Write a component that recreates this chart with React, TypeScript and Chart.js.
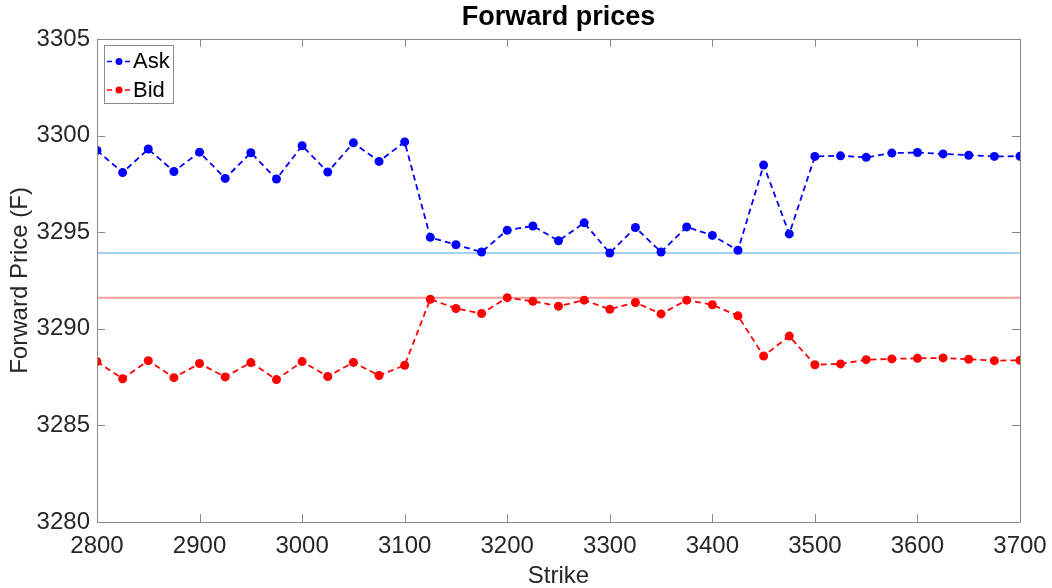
import React, { useEffect, useRef } from "react";
import { Chart, registerables } from "chart.js";

Chart.register(...registerables);

const strikes = [
  2800, 2825, 2850, 2875, 2900, 2925, 2950, 2975, 3000, 3025, 3050, 3075, 3100,
  3125, 3150, 3175, 3200, 3225, 3250, 3275, 3300, 3325, 3350, 3375, 3400, 3425,
  3450, 3475, 3500, 3525, 3550, 3575, 3600, 3625, 3650, 3675, 3700,
];

const askPrices = [
  3299.23, 3298.08, 3299.3, 3298.14, 3299.14, 3297.78, 3299.11, 3297.75, 3299.47,
  3298.11, 3299.62, 3298.66, 3299.67, 3294.73, 3294.35, 3293.97, 3295.1, 3295.32,
  3294.55, 3295.48, 3293.92, 3295.24, 3293.97, 3295.27, 3294.83, 3294.06, 3298.47,
  3294.91, 3298.92, 3298.95, 3298.87, 3299.09, 3299.12, 3299.05, 3298.98, 3298.92,
  3298.93,
];

const bidPrices = [
  3288.3, 3287.41, 3288.35, 3287.47, 3288.2, 3287.51, 3288.25, 3287.37, 3288.3,
  3287.53, 3288.26, 3287.58, 3288.11, 3291.53, 3291.05, 3290.79, 3291.61, 3291.42,
  3291.17, 3291.48, 3291.01, 3291.36, 3290.77, 3291.48, 3291.24, 3290.67, 3288.59,
  3289.62, 3288.14, 3288.18, 3288.4, 3288.44, 3288.47, 3288.49, 3288.42, 3288.35,
  3288.37,
];

const askLevel = 3293.92;
const bidLevel = 3291.61;

const xRange = [2800, 3700];
const yRange = [3280, 3305];
const xStep = 100;
const yStep = 5;

const titleText = "Forward prices";
const xTitle = "Strike";
const yTitle = "Forward Price (F)";

const FONT = "'Liberation Sans', Arial, Helvetica, sans-serif";
const TEXT = "#262626";

const boxPlugin = {
  id: "boxTicks",
  afterDatasetsDraw(chart: any) {
    const { ctx, chartArea: a, scales } = chart;
    ctx.save();
    ctx.strokeStyle = "#8a8a8a";
    ctx.lineWidth = 1;
    ctx.beginPath();
    ctx.rect(Math.round(a.left) + 0.5, Math.round(a.top) + 0.5, Math.round(a.right - a.left), Math.round(a.bottom - a.top));
    ctx.stroke();
    const tl = 8;
    ctx.beginPath();
    for (const t of scales.x.ticks) {
      const px = Math.round(scales.x.getPixelForValue(t.value)) + 0.5;
      ctx.moveTo(px, a.bottom);
      ctx.lineTo(px, a.bottom - tl);
      ctx.moveTo(px, a.top);
      ctx.lineTo(px, a.top + tl);
    }
    for (const t of scales.y.ticks) {
      const py = Math.round(scales.y.getPixelForValue(t.value)) + 0.5;
      ctx.moveTo(a.left, py);
      ctx.lineTo(a.left + tl, py);
      ctx.moveTo(a.right, py);
      ctx.lineTo(a.right - tl, py);
    }
    ctx.stroke();
    ctx.restore();
  },
  afterDraw(chart: any) {
    const { ctx, chartArea: a } = chart;
    const items = chart.data.datasets.filter((d: any) => d.label);
    const bx = a.left + 7;
    const by = a.top + 6;
    const bw = 69;
    const bh = 58;
    ctx.save();
    ctx.fillStyle = "#ffffff";
    ctx.fillRect(bx, by, bw, bh);
    ctx.strokeStyle = "#8a8a8a";
    ctx.lineWidth = 1;
    ctx.strokeRect(Math.round(bx) + 0.5, Math.round(by) + 0.5, bw, bh);
    items.forEach((d: any, i: number) => {
      const cy = by + 16.5 + i * 28.5;
      ctx.strokeStyle = d.borderColor;
      ctx.lineWidth = 1.5;
      ctx.setLineDash([5, 4]);
      ctx.beginPath();
      ctx.moveTo(bx + 3, cy);
      ctx.lineTo(bx + 27, cy);
      ctx.stroke();
      ctx.setLineDash([]);
      ctx.fillStyle = d.pointBackgroundColor;
      ctx.beginPath();
      ctx.arc(bx + 15, cy, 3.5, 0, Math.PI * 2);
      ctx.fill();
      ctx.fillStyle = "#000000";
      ctx.font = `22px ${FONT}`;
      ctx.textBaseline = "middle";
      ctx.textAlign = "left";
      ctx.fillText(d.label, bx + 29, cy + 1);
    });
    ctx.restore();
  },
};

export default function App() {
  const ref = useRef<HTMLCanvasElement>(null);
  useEffect(() => {
    if (!ref.current) return;
    const ask = strikes.map((s, i) => ({ x: s, y: askPrices[i] }));
    const bid = strikes.map((s, i) => ({ x: s, y: bidPrices[i] }));
    const chart = new Chart(ref.current, {
      type: "line",
      data: {
        datasets: [
          {
            label: "Ask",
            data: ask,
            borderColor: "#0000ff",
            backgroundColor: "#0000ff",
            pointBackgroundColor: "#0000ff",
            pointBorderWidth: 0,
            pointRadius: 4.5,
            borderWidth: 1.8,
            borderDash: [6, 4],
            fill: false,
            order: 1,
          },
          {
            label: "Bid",
            data: bid,
            borderColor: "#ff0000",
            backgroundColor: "#ff0000",
            pointBackgroundColor: "#ff0000",
            pointBorderWidth: 0,
            pointRadius: 4.5,
            borderWidth: 1.8,
            borderDash: [6, 4],
            fill: false,
            order: 1,
          },
          {
            label: "",
            data: [
              { x: xRange[0], y: askLevel },
              { x: xRange[1], y: askLevel },
            ],
            borderColor: "#a3d3f3",
            pointRadius: 0,
            borderWidth: 2,
            order: 2,
          },
          {
            label: "",
            data: [
              { x: xRange[0], y: bidLevel },
              { x: xRange[1], y: bidLevel },
            ],
            borderColor: "#f29c9c",
            pointRadius: 0,
            borderWidth: 2,
            order: 2,
          },
        ],
      },
      options: {
        responsive: false,
        animation: false,
        devicePixelRatio: 1,
        layout: { padding: { left: 0, right: 32, top: 0, bottom: 0 } },
        plugins: {
          legend: { display: false },
          tooltip: { enabled: false },
          title: {
            display: true,
            text: titleText,
            fullSize: false,
            color: "#000000",
            font: { family: FONT, size: 27, weight: "bold", lineHeight: 1.2 },
            padding: { top: 1.5, bottom: 5 },
          },
        },
        scales: {
          x: {
            type: "linear",
            min: xRange[0],
            max: xRange[1],
            afterFit: (s: any) => {
              s.height = 66;
              s.paddingLeft = 0;
              s.paddingRight = 0;
            },
            grid: { display: false, drawTicks: false },
            border: { display: false },
            ticks: {
              stepSize: xStep,
              autoSkip: false,
              maxRotation: 0,
              padding: 10,
              color: TEXT,
              font: { family: FONT, size: 24 },
              callback: (v: any) => String(v),
            },
            title: {
              display: true,
              text: xTitle,
              color: TEXT,
              font: { family: FONT, size: 24, lineHeight: 1 },
              padding: { top: 0, bottom: 0 },
            },
          },
          y: {
            min: yRange[0],
            max: yRange[1],
            afterFit: (s: any) => {
              s.width = 97;
              s.paddingTop = 0;
              s.paddingBottom = 0;
            },
            grid: { display: false, drawTicks: false },
            border: { display: false },
            ticks: {
              stepSize: yStep,
              padding: 7,
              color: TEXT,
              font: { family: FONT, size: 24 },
              callback: (v: any) => String(v),
            },
            title: {
              display: true,
              text: yTitle,
              color: TEXT,
              font: { family: FONT, size: 24, lineHeight: 1.2 },
              padding: { top: 6, bottom: 0 },
            },
          },
        },
      },
      plugins: [boxPlugin],
    });
    return () => chart.destroy();
  }, []);
  return (
    <div style={{ position: "absolute", left: 0, top: 0, width: 1052, height: 588, background: "#ffffff" }}>
      <canvas ref={ref} width={1052} height={588} />
    </div>
  );
}
